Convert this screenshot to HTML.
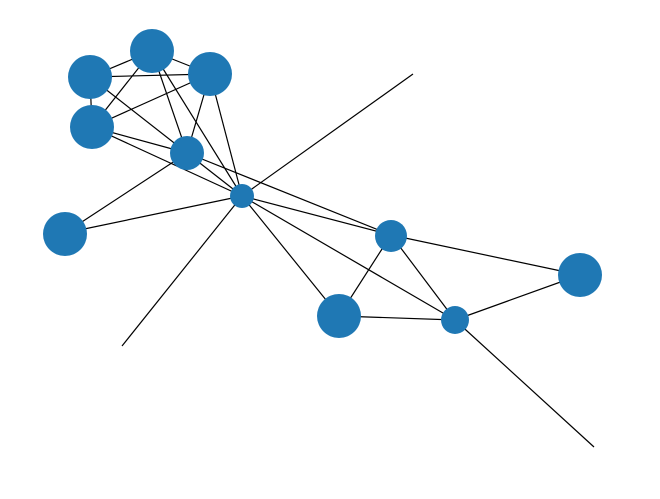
<!DOCTYPE html>
<html><head><style>body{margin:0;background:#fff}svg{display:block}</style></head>
<body>
<svg width="660" height="499" xmlns="http://www.w3.org/2000/svg">
<g stroke="#000" stroke-width="1.2">
<line x1="152" y1="51" x2="90" y2="77"/>
<line x1="152" y1="51" x2="210" y2="74"/>
<line x1="152" y1="51" x2="92" y2="127"/>
<line x1="152" y1="51" x2="187" y2="153"/>
<line x1="152" y1="51" x2="242" y2="196"/>
<line x1="90" y1="77" x2="210" y2="74"/>
<line x1="90" y1="77" x2="92" y2="127"/>
<line x1="90" y1="77" x2="187" y2="153"/>
<line x1="210" y1="74" x2="92" y2="127"/>
<line x1="210" y1="74" x2="187" y2="153"/>
<line x1="210" y1="74" x2="242" y2="196"/>
<line x1="92" y1="127" x2="187" y2="153"/>
<line x1="92" y1="127" x2="242" y2="196"/>
<line x1="187" y1="153" x2="242" y2="196"/>
<line x1="187" y1="153" x2="65" y2="233"/>
<line x1="187" y1="153" x2="391" y2="235"/>
<line x1="242" y1="196" x2="65" y2="233"/>
<line x1="242" y1="196" x2="391" y2="235"/>
<line x1="242" y1="196" x2="339" y2="316"/>
<line x1="242" y1="196" x2="455" y2="320"/>
<line x1="413" y1="74" x2="242" y2="196"/>
<line x1="242" y1="196" x2="122" y2="346"/>
<line x1="391" y1="235" x2="580" y2="275"/>
<line x1="391" y1="235" x2="339" y2="316"/>
<line x1="391" y1="235" x2="455" y2="320"/>
<line x1="339" y1="316" x2="455" y2="320"/>
<line x1="455" y1="320" x2="580" y2="275"/>
<line x1="455" y1="320" x2="594" y2="447"/>
</g>
<g fill="#1f78b4">
<circle cx="152" cy="51" r="22"/>
<circle cx="90" cy="77" r="22"/>
<circle cx="210" cy="74" r="22"/>
<circle cx="92" cy="127" r="22"/>
<circle cx="187" cy="153" r="17"/>
<circle cx="242" cy="196" r="12"/>
<circle cx="65" cy="234" r="22"/>
<circle cx="391" cy="236" r="16"/>
<circle cx="580" cy="275" r="22"/>
<circle cx="339" cy="316" r="22"/>
<circle cx="455" cy="320" r="14"/>
</g>
</svg>
</body></html>
